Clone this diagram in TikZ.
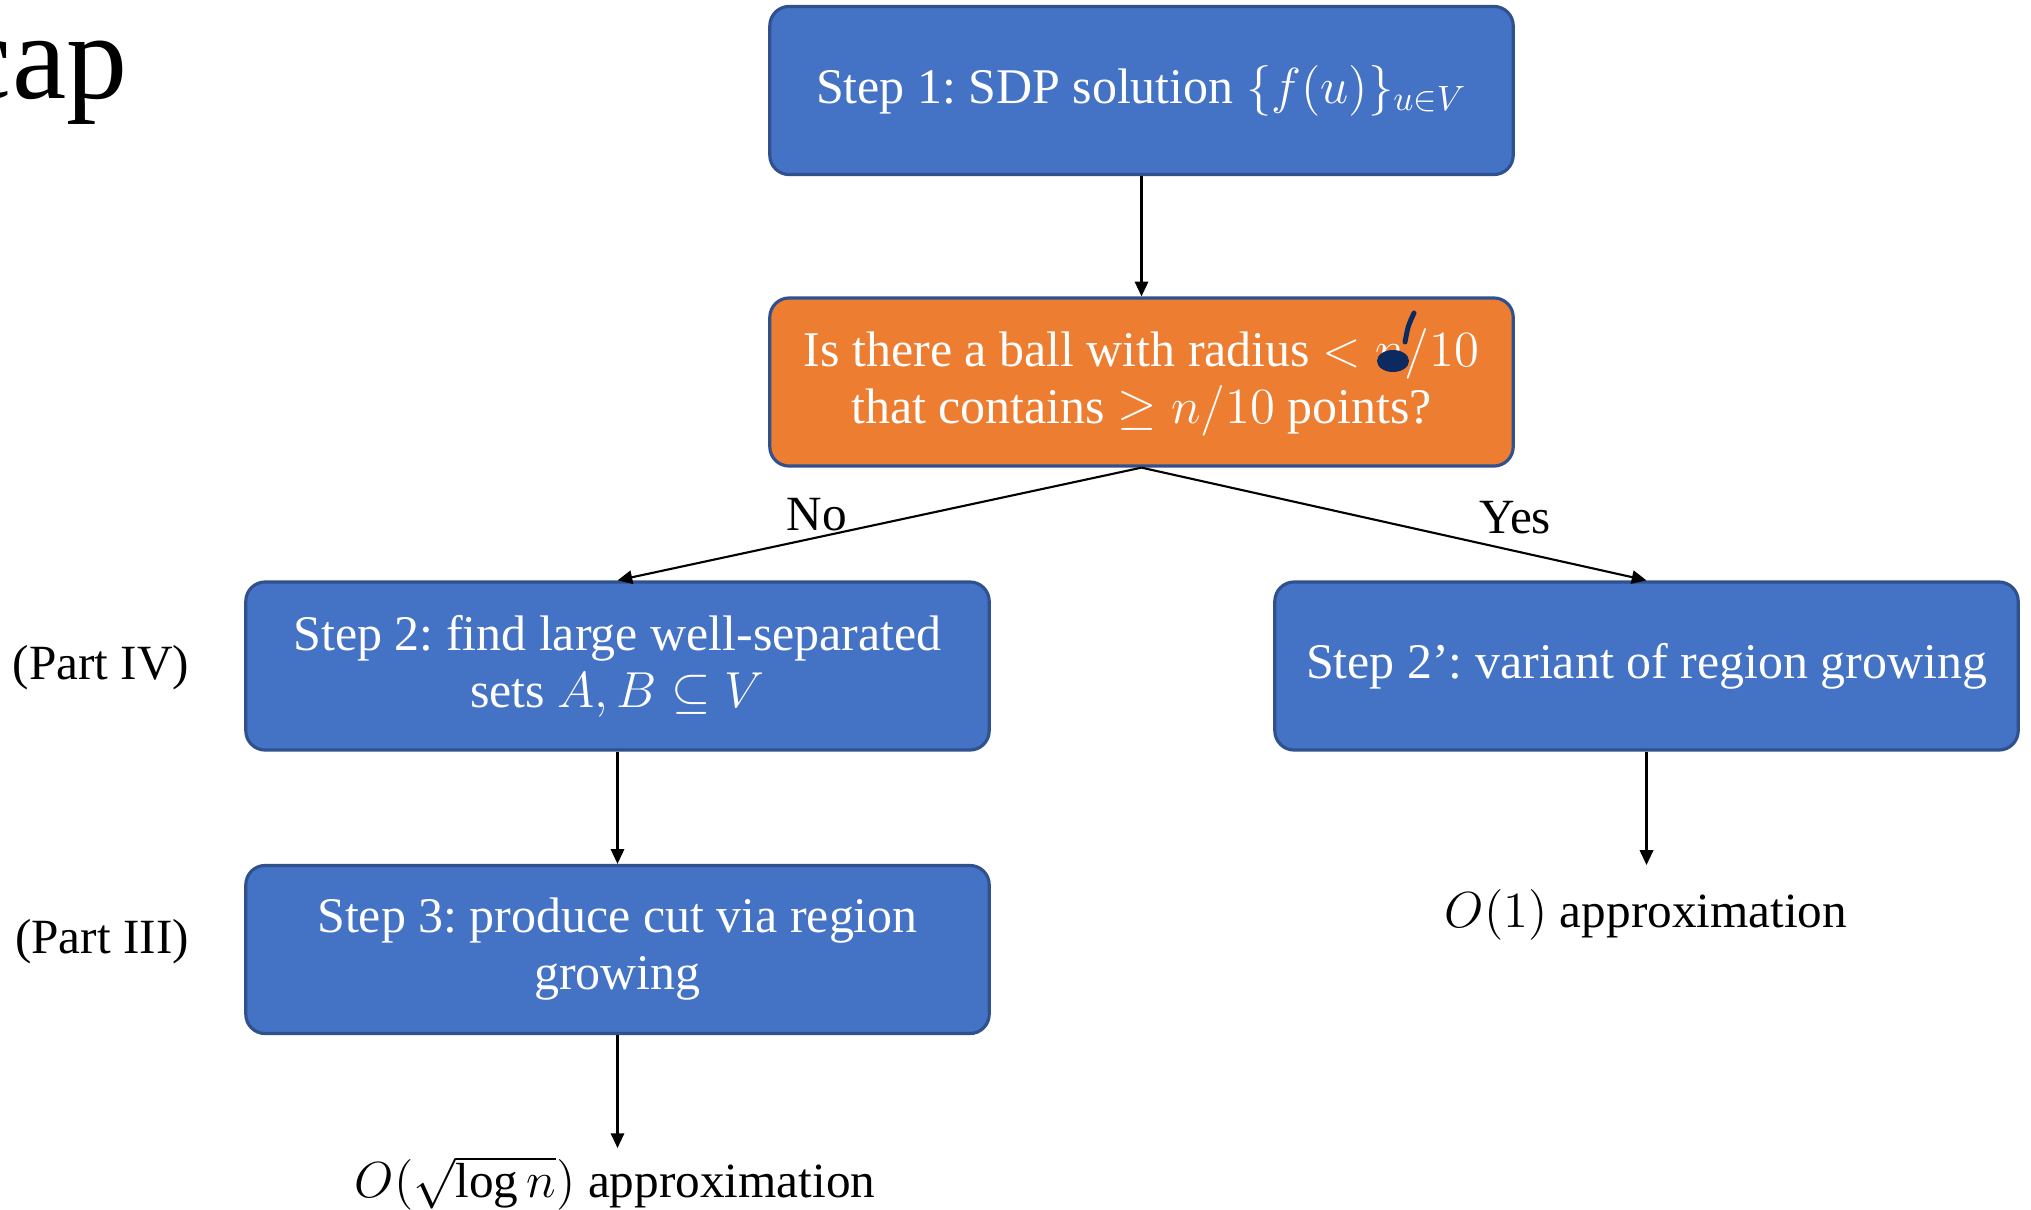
\documentclass[tikz,border=0pt]{standalone}
\usepackage{fontspec}
\setmainfont{Liberation Serif}
\usetikzlibrary{arrows.meta}
\frenchspacing

\definecolor{stepblue}{HTML}{4472C4}
\definecolor{edgeblue}{HTML}{2F528F}
\definecolor{askorange}{HTML}{ED7D31}
\definecolor{inkblue}{HTML}{0A2A60}

\tikzset{
	stepbox/.style={draw=edgeblue, line width=0.9pt, fill=stepblue, rounded corners=5.5pt,
		text=white, minimum width=7.43cm, minimum height=1.68cm, align=center,
		font=\fontsize{14.2}{16.2}\selectfont},
	askbox/.style={stepbox, fill=askorange},
	flow/.style={-{Triangle[length=4.2pt,width=3.8pt]}, line width=0.6pt},
	plain/.style={font=\fontsize{14}{16.2}\selectfont, inner sep=0pt}
}

\begin{document}
\begin{tikzpicture}[x=0.01cm, y=-0.01cm]
		\useasboundingbox (0,0) rectangle (2031,1209);
		% title fragment
		\node[anchor=base east, inner sep=0pt, font=\fontsize{34.7}{40}\selectfont] (title) at (128,98) {cap};
		% boxes
		\node[stepbox] (sdp) at (1141.5,90.5) {Step 1: SDP solution $\{f(u)\}_{u\in V}$};
		\node[askbox] (ball) at (1141.5,382) {Is there a ball with radius $<n/10$\\that contains $\geq n/10$ points?};
		\node[stepbox] (sep) at (617.5,666) {Step 2: find large well-separated\\sets $A,B\subseteq V$};
		\node[stepbox] (grow) at (1646.5,666) {Step 2’: variant of region growing};
		\node[stepbox] (cut) at (617.5,949.5) {Step 3: produce cut via region\\growing};
		% side labels and results
		\node[plain] (part4) at (101,668) {(Part IV)};
		\node[plain] (part3) at (102,942) {(Part III)};
		\node[plain, anchor=base] (logapx) at (615,1197) {$O(\sqrt{\log n})$ approximation};
		\node[plain, anchor=base] (oneapx) at (1646,927) {$O(1)$ approximation};
		\coordinate (logtip) at (617.5,1148);
		\coordinate (onetip) at (1646.5,865);
		% connectors
		\draw[flow] (sdp) -- (ball);
		\draw[flow] (ball.south) -- (sep.north) node[pos=0.62, above=1.5pt, plain] (no) {No};
		\draw[flow] (ball.south) -- (grow.north) node[pos=0.74, above=4.5pt, plain] (yes) {Yes};
		\draw[flow] (sep) -- (cut);
		\draw[flow] (cut) -- (logtip);
		\draw[flow] (grow) -- (onetip);
		% ink mark over the n
		\fill[inkblue] (1393,361) ellipse [x radius=16, y radius=11];
		\draw[inkblue, line width=1.4pt, line cap=round] (1414,313) .. controls (1408,326) .. (1405,342);
\end{tikzpicture}
\end{document}
